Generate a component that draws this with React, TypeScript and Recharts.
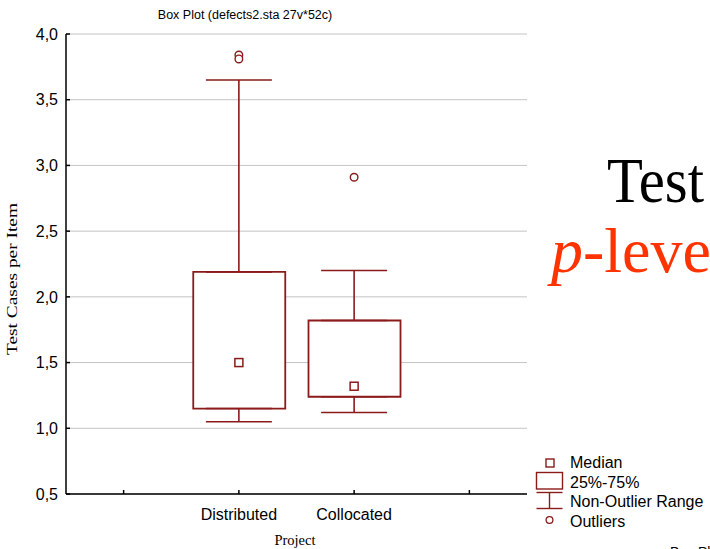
import React from 'react';
import { ComposedChart, XAxis, YAxis, CartesianGrid, Bar, Scatter, ErrorBar } from 'recharts';

// categories on the x axis (outer two are empty slots, like in the original plot)
const categories = ['slot-left', 'Distributed', 'Collocated', 'slot-right'];
const projects = ['Distributed', 'Collocated'];

// box statistics per project
const q1 = [1.15, 1.24];
const q3 = [2.19, 1.82];
const medians = [1.5, 1.32];
const whiskerLow = [1.05, 1.12];
const whiskerHigh = [3.65, 2.2];

// outliers
const outlierProject = ['Distributed', 'Distributed', 'Collocated'];
const outlierValue = [3.84, 3.81, 2.91];

const yTicks = [0.5, 1, 1.5, 2, 2.5, 3, 3.5, 4];

const RED = '#8b1a1a';
const SANS = '"Liberation Sans", Arial, sans-serif';
const SERIF = '"Liberation Serif", "Times New Roman", serif';

const rows = categories.map((name) => {
    const i = projects.indexOf(name);
    return i < 0 ? { name } : { name, box: [q1[i], q3[i]] };
});
const medianPts = projects.map((name, i) => ({ name, value: medians[i] }));
const upperPts = projects.map((name, i) => ({ name, value: q3[i], err: [0, whiskerHigh[i] - q3[i]] }));
const lowerPts = projects.map((name, i) => ({ name, value: q1[i], err: [q1[i] - whiskerLow[i], 0] }));
const outlierPts = outlierValue.map((value, i) => ({ name: outlierProject[i], value }));

const fmtComma = (v: number) => v.toFixed(1).replace('.', ',');

const MedianSquare = (props: any) => {
    const { cx, cy } = props;
    if (cx == null || cy == null) return <g />;
    return <rect x={cx - 4} y={cy - 4} width={8} height={8} fill="#fff" stroke={RED} strokeWidth={1.5} />;
};

const OutlierCircle = (props: any) => {
    const { cx, cy } = props;
    if (cx == null || cy == null) return <g />;
    return <circle cx={cx} cy={cy} r={3.8} fill="#fff" stroke={RED} strokeWidth={1.4} />;
};

const Hidden = () => <g />;

export default function App() {
    return (
        <div style={{ position: 'relative', width: 710, height: 549, overflow: 'hidden', background: '#fff' }}>
            <style>{`body{margin:0}`}</style>
            <ComposedChart width={710} height={549} data={rows} margin={{ top: 34, right: 183, bottom: 0, left: 0 }}>
                <CartesianGrid vertical={false} stroke="#c4c4c4" strokeWidth={1} />
                <XAxis
                    dataKey="name"
                    type="category"
                    allowDuplicatedCategory={false}
                    height={55}
                    stroke="#000"
                    strokeWidth={1.5}
                    tickSize={-4}
                    tickMargin={19}
                    tick={{ fill: '#000', fontSize: 16, fontFamily: SANS }}
                    tickFormatter={(v: string) => (projects.includes(v) ? v : '')}
                    label={{
                        content: () => (
                            <text x={295} y={545} textAnchor="middle" fontFamily={SERIF} fontSize={14.5} fill="#000">
                                Project
                            </text>
                        ),
                    }}
                />
                <XAxis
                    xAxisId="top"
                    dataKey="name"
                    type="category"
                    orientation="top"
                    height={0}
                    stroke="#000"
                    strokeWidth={1.5}
                    tickSize={-4}
                    tick={false}
                />
                <YAxis
                    type="number"
                    domain={[0.5, 4]}
                    ticks={yTicks}
                    width={66}
                    stroke="#000"
                    strokeWidth={1.5}
                    tickSize={-4}
                    tickMargin={12}
                    tick={{ fill: '#000', fontSize: 16, fontFamily: SANS }}
                    tickFormatter={fmtComma}
                    label={{
                        content: () => (
                            <text
                                transform="translate(16.5, 279) rotate(-90)"
                                textAnchor="middle"
                                fontFamily={SERIF}
                                fontSize={14.5}
                                textLength={152}
                                lengthAdjust="spacingAndGlyphs"
                                fill="#000"
                            >
                                Test Cases per Item
                            </text>
                        ),
                    }}
                />
                <YAxis
                    yAxisId="right"
                    orientation="right"
                    type="number"
                    domain={[0.5, 4]}
                    ticks={yTicks}
                    width={0}
                    stroke="#000"
                    strokeWidth={1.5}
                    tickSize={-4}
                    tick={false}
                />
                <Bar dataKey="box" barSize={92} fill="#fff" stroke={RED} strokeWidth={1.8} isAnimationActive={false} />
                <Scatter data={upperPts} dataKey="value" shape={Hidden} isAnimationActive={false}>
                    <ErrorBar dataKey="err" direction="y" width={33} stroke={RED} strokeWidth={1.6} />
                </Scatter>
                <Scatter data={lowerPts} dataKey="value" shape={Hidden} isAnimationActive={false}>
                    <ErrorBar dataKey="err" direction="y" width={33} stroke={RED} strokeWidth={1.6} />
                </Scatter>
                <Scatter data={medianPts} dataKey="value" shape={MedianSquare} isAnimationActive={false} />
                <Scatter data={outlierPts} dataKey="value" shape={OutlierCircle} isAnimationActive={false} />
            </ComposedChart>

            <svg width={710} height={549} style={{ position: 'absolute', left: 0, top: 0, pointerEvents: 'none' }}>
                <text x={245} y={19} textAnchor="middle" fontFamily={SANS} fontSize={12.5} fill="#000">
                    Box Plot (defects2.sta 27v*52c)
                </text>

                {/* legend */}
                <g transform="translate(533, 452)" fontFamily={SANS} fontSize={16} fill="#000">
                    <rect x={13} y={7} width={8} height={8} fill="#fff" stroke={RED} strokeWidth={1.4} />
                    <text x={37} y={16}>Median</text>
                    <rect x={3.5} y={20.5} width={26} height={16.5} fill="#fff" stroke={RED} strokeWidth={1.4} />
                    <text x={37} y={35.5}>25%-75%</text>
                    <line x1={3.5} x2={29.5} y1={40.5} y2={40.5} stroke={RED} strokeWidth={1.4} />
                    <line x1={16.5} x2={16.5} y1={40.5} y2={56.5} stroke={RED} strokeWidth={1.4} />
                    <line x1={3.5} x2={29.5} y1={56.5} y2={56.5} stroke={RED} strokeWidth={1.4} />
                    <text x={37} y={55}>Non-Outlier Range</text>
                    <circle cx={16.5} cy={68} r={3.4} fill="#fff" stroke={RED} strokeWidth={1.3} />
                    <text x={37} y={74.5}>Outliers</text>
                </g>

                {/* slide text behind the figure */}
                <text x={607} y={202} fontFamily={SERIF} fontSize={64} textLength={97} lengthAdjust="spacingAndGlyphs" fill="#000">
                    Test
                </text>
                <text x={551} y={272} fontFamily={SERIF} fontSize={64} fill="#ff3300">
                    <tspan fontStyle="italic">p</tspan>-level
                </text>
                <text x={670} y={557} fontFamily={SANS} fontSize={14} fill="#000">Box Plot</text>
            </svg>
        </div>
    );
}
